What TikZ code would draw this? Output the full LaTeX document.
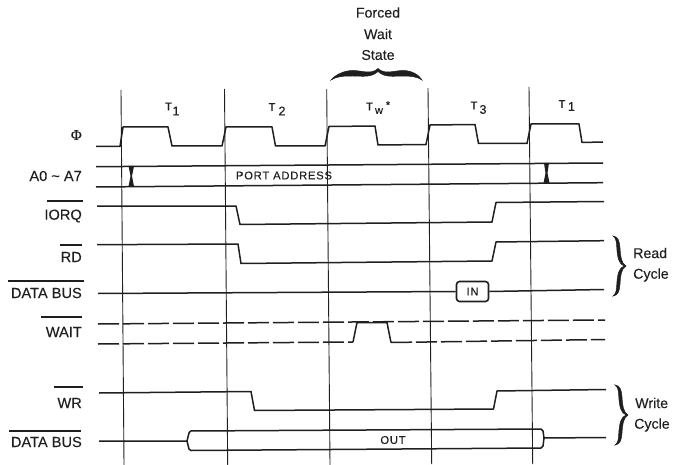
\documentclass[tikz,border=0pt]{standalone}
\usepackage{fontspec}
\setmainfont[FakeBold=0.2]{Liberation Sans}
\newfontfamily\spc[LetterSpace=7,FakeBold=0.4]{Liberation Sans}
\newfontfamily\phifont[FakeBold=0.4]{Liberation Serif}
\newcommand{\vbraceshape}{
  (0,0) .. controls (5,0.5) and (6.5,5) .. (7,12) .. controls (7.5,20) and (8,27) .. (13,30)
  .. controls (8,33) and (7.5,40) .. (7,48) .. controls (6.5,55) and (5,59.5) .. (0,60)
  .. controls (3,58) and (3.6,54) .. (3.8,48) .. controls (4.4,38) and (6,32) .. (11,30)
  .. controls (6,28) and (4.4,22) .. (3.8,12) .. controls (3.6,6) and (3,2) .. (0,0) -- cycle}
\tikzset{
  x=1pt,y=-1pt,
  ink/.style={black!88},
  sig/.style={ink,draw,line width=1.5pt,line join=round},
  dsig/.style={sig,dash pattern=on 21pt off 4pt},
  gridline/.style={ink,draw,line width=0.9pt},
  overbar/.style={ink,draw,line width=1.7pt},
  lbl/.style={anchor=east,inner sep=0pt,font=\fontsize{14.6}{16}\selectfont,text=black!88},
  txt/.style={inner sep=0pt,font=\fontsize{14.2}{16}\selectfont,text=black!88},
  capslbl/.style={inner sep=0pt,font=\spc\fontsize{11.2}{12}\selectfont,text=black!88},
  tt/.style={inner sep=0pt,font=\fontsize{11}{12}\selectfont,text=black!88},
  subs/.style={inner sep=0pt,font=\fontsize{12.5}{13}\selectfont,text=black!88},
}
\begin{document}
\begin{tikzpicture}
\useasboundingbox (0,0) rectangle (674,465);
% period boundaries
\draw[gridline] (121,90) -- (124,465);
\draw[gridline] (224.5,89) -- (227.7,465);
\draw[gridline] (326.7,89) -- (330,465);
\draw[gridline] (428,88) -- (431.7,464);
\draw[gridline] (529,87) -- (532.7,464);
% clock
\draw[sig] (96,146.5) -- (120,146.5) -- (123,127) -- (168,127) -- (172,146) -- (222,146) -- (226,127) -- (272,127) -- (275.5,146) -- (325,146) -- (329,126.5) -- (375,126) -- (378,145) -- (426,144.5) -- (430,125) -- (475,124.5) -- (478.5,143.5) -- (527,143.5) -- (531,124) -- (579,124) -- (582,142.5) -- (603,142);
% address
\draw[sig] (96,166.7) -- (603,163);
\draw[sig] (96,187) -- (603,182.7);
\fill[ink] (128.5,166) -- (134,166) -- (132,176) -- (134,186.5) -- (128.5,186.5) -- (130.5,176) -- cycle;
\fill[ink] (544,163) -- (549,163) -- (547.5,173) -- (549.5,183) -- (543.5,183) -- (545.5,173) -- cycle;
% IORQ
\draw[sig] (97,206) -- (236,206) -- (240,224.5) -- (492,222) -- (496,202.5) -- (604,201.5);
% RD
\draw[sig] (97,244.7) -- (238,244) -- (241,263.5) -- (492,261) -- (496,242) -- (604,240.7);
% data bus read
\node[capslbl,minimum width=32pt,minimum height=20pt,draw=black!88,line width=1.6pt,rounded corners=3pt] (inbox) at (472.5,291.5) {IN};
\draw[sig] (98,293.5) -- (inbox.west);
\draw[sig] (inbox.east) -- (604,289.5);
% wait
\draw[dsig] (98,324) -- (605,320);
\draw[dsig] (98,344) -- (353,342);
\draw[sig] (353,342) -- (357,322.5) -- (387,322.5) -- (391,342.5);
\draw[dsig] (391,342.5) -- (605,339.5);
% WR
\draw[sig] (99,393) -- (251,391.5) -- (254.5,410.5) -- (493.5,409) -- (497,391) -- (606,389.5);
% data bus write
\draw[sig] (99,441) -- (187,441) -- (189,433) -- (190.5,431) -- (541,429) -- (543,431) -- (544,438) -- (543,446) -- (541,448) -- (191,450.5) -- (189,449) -- (187,441);
\draw[sig] (544,438) -- (606,437.5);
% labels
\node[lbl,font=\phifont\fontsize{15}{16}\selectfont] (phi) at (82,135) {Φ};
\node[lbl] (addr) at (82,176) {A0 \textasciitilde{} A7};
\node[lbl] (iorq) at (82,216) {IORQ};
\node[lbl] (rd) at (82,257) {RD};
\node[lbl] (db1) at (82,293) {DATA BUS};
\node[lbl] (wait) at (82,332) {WAIT};
\node[lbl] (wr) at (82,403) {WR};
\node[lbl] (db2) at (82,442) {DATA BUS};
\draw[overbar] (47,200.7) -- (83,200.7);
\draw[overbar] (60,245) -- (82,245);
\draw[overbar] (8,280.7) -- (84,280.7);
\draw[overbar] (41,317) -- (82,317);
\draw[overbar] (54,386.7) -- (83,386.7);
\draw[overbar] (9,430.7) -- (81,430.7);
\node[capslbl] (port) at (284,175.5) {PORT ADDRESS};
\node[capslbl] (out) at (393,440) {OUT};
% T labels
\node[tt] (t1a) at (168.5,106.5) {T}; \node[subs] (t1as) at (176,111) {1};
\node[tt] (t2) at (272,107) {T}; \node[subs] (t2s) at (282,111) {2};
\node[tt] (tw) at (369.5,106.5) {T}; \node[tt] (tws) at (379,111) {w}; \node[tt] (twa) at (388,105) {*};
\node[tt] (t3) at (474,105.5) {T}; \node[subs] (t3s) at (483,109.5) {3};
\node[tt] (t1b) at (562,104) {T}; \node[subs] (t1bs) at (571.5,106.5) {1};
% forced wait state
\node[txt] (f1) at (378,12.5) {Forced};
\node[txt] (f2) at (378,34) {Wait};
\node[txt] (f3) at (378,55) {State};
\filldraw[ink,line width=0.5pt] (331,80) .. controls (336,74) and (345,70.5) .. (353,70.5) .. controls (362,70.5) and (371,75) .. (378,68.5)
 .. controls (385,75) and (394,70.5) .. (403,70.5) .. controls (412,70.5) and (419,75) .. (422,80)
 .. controls (417,76.5) and (410,76) .. (403,76) .. controls (394,76) and (385,78) .. (378,71.5)
 .. controls (371,78) and (362,76) .. (353,76) .. controls (345,76) and (337,76) .. (331,80) -- cycle;
% cycle braces
\filldraw[ink,line width=0.5pt,shift={(613,236)}] \vbraceshape;
\filldraw[ink,line width=0.5pt,shift={(615,385)}] \vbraceshape;
\node[txt,anchor=west] (read) at (633,253) {Read};
\node[txt,anchor=west] (rc) at (633,275) {Cycle};
\node[txt,anchor=west] (write) at (635,403) {Write};
\node[txt,anchor=west] (wc) at (634,425) {Cycle};
\end{tikzpicture}
\end{document}
